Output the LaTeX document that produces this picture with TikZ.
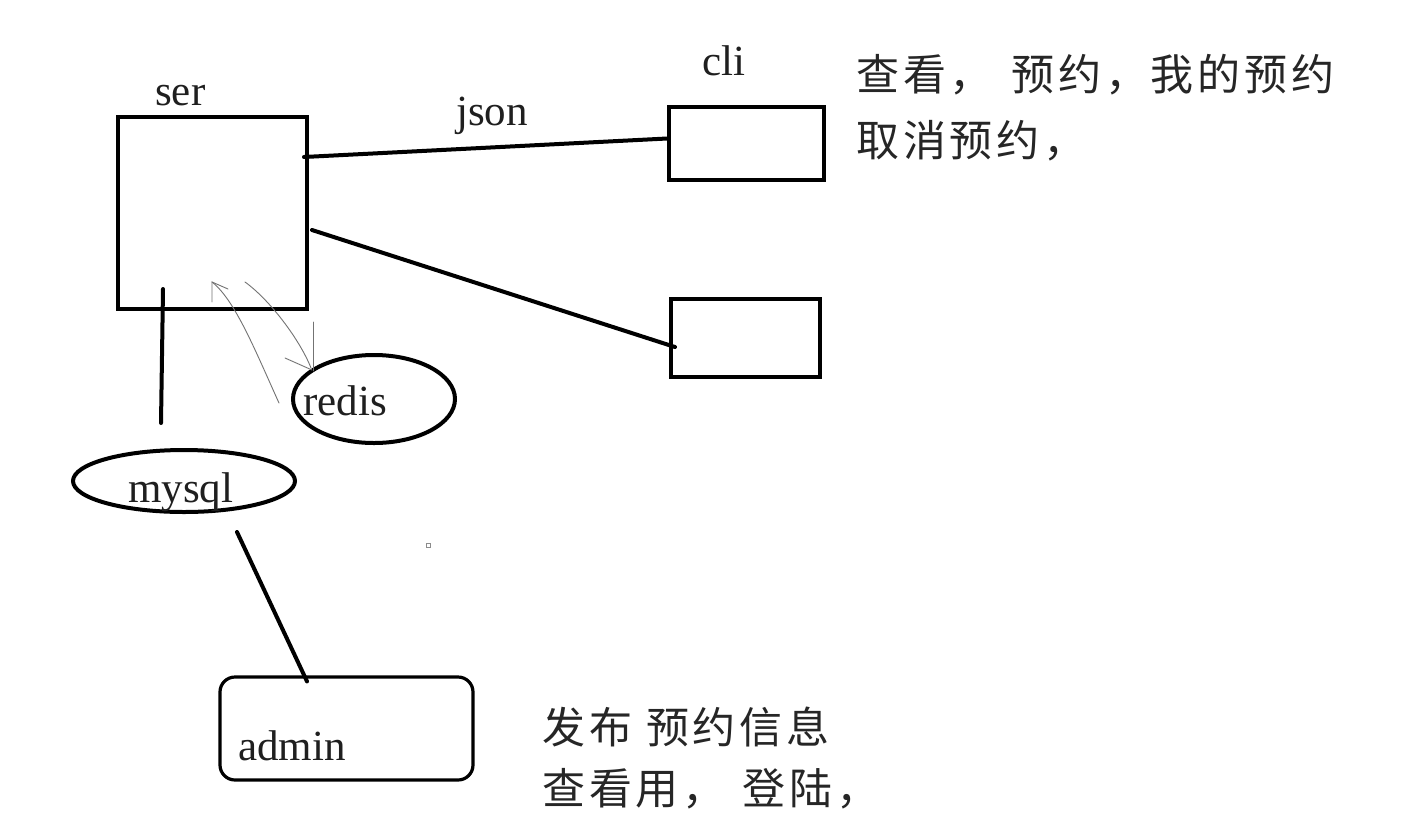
\documentclass[tikz,border=0pt]{standalone}
\usepackage{fontspec}
\setmainfont{Liberation Serif}
\newfontfamily\cjk[LetterSpace=9]{Noto Sans CJK SC}
\usetikzlibrary{shapes.geometric}
\begin{document}
\begin{tikzpicture}[x=1pt,y=-1pt,
  box/.style={draw=black,line width=4pt,inner sep=0pt,rectangle},
  oval/.style={draw=black,line width=4pt,inner sep=0pt,ellipse},
  lbl/.style={font=\fontsize{43}{50}\selectfont,text=black!88,inner sep=0pt,anchor=base west},
  cjktext/.style={font=\cjk\fontsize{43}{52}\selectfont,text=black!85,inner sep=0pt,anchor=base west},
  link/.style={line width=4pt,line cap=round},
  sketch/.style={draw=black!55,line width=0.9pt,line cap=round}]
\useasboundingbox[fill=white] (0,0) rectangle (1410,839);

% boxes and ovals
\node[box,minimum width=189pt,minimum height=192pt] (ser) at (212.5,213) {};
\node[box,minimum width=155pt,minimum height=73pt] (cli) at (746.5,143.5) {};
\node[box,minimum width=149pt,minimum height=78pt] (cli2) at (745.5,338) {};
\node[box,line width=3.2pt,rounded corners=15pt,minimum width=253pt,minimum height=103pt] (admin) at (346.5,728.5) {};
\node[oval,minimum width=222pt,minimum height=62pt] (mysql) at (184,481) {};
\node[oval,minimum width=162pt,minimum height=88pt] (redis) at (374,399) {};
\node[draw=black!45,line width=0.8pt,minimum size=4pt,inner sep=0pt] (dot) at (428,545) {};

% labels
\node[lbl] (serl) at (155,105) {ser};
\node[lbl] (clil) at (702,75) {cli};
\node[lbl] (jsonl) at (456,125) {json};
\node[lbl] (redisl) at (303,415) {redis};
\node[lbl] (mysqll) at (128,502) {mysql};
\node[lbl] (adminl) at (238,760) {admin};

% chinese notes
\node[cjktext] (t1) at (856,90) {查看，\hspace{19pt}预约，\hspace{2pt}我的预约};
\node[cjktext] (t2) at (856,156) {取消预约，};
\node[cjktext] (t3) at (542,743) {发布\hspace{14pt}预约信息};
\node[cjktext] (t4) at (542,804) {查看用，\hspace{17pt}登陆，};

% connectors
\draw[link] ([xshift=-5pt,yshift=56pt]ser.east) -- ([yshift=5pt]cli.west);
\draw[link] ([xshift=3pt,yshift=-17pt]ser.east) -- ([xshift=6pt,yshift=-9pt]cli2.west);
\draw[link] ([xshift=-49.5pt,yshift=22pt]ser.south) -- ([xshift=-23pt,yshift=25pt]mysql.north);
\draw[link] ([xshift=53pt,yshift=-18pt]mysql.south) -- ([xshift=-39.5pt,yshift=-6pt]admin.north);

% hand-drawn thin arrows between redis and ser
\coordinate (rA) at (279,403);
\coordinate (sA) at (212,282);
\coordinate (sB) at (245,282);
\coordinate (rB) at (311,368);
\draw[sketch] (rA) .. controls (255,350) and (235,300) .. (sA);
\draw[sketch] (212,302) -- (sA) -- (228,289);
\draw[sketch] (sB) .. controls (270,300) and (300,340) .. (rB);
\draw[sketch] (313,322) -- (313,371);
\draw[sketch] (285,358) -- (312,370);
\end{tikzpicture}
\end{document}
